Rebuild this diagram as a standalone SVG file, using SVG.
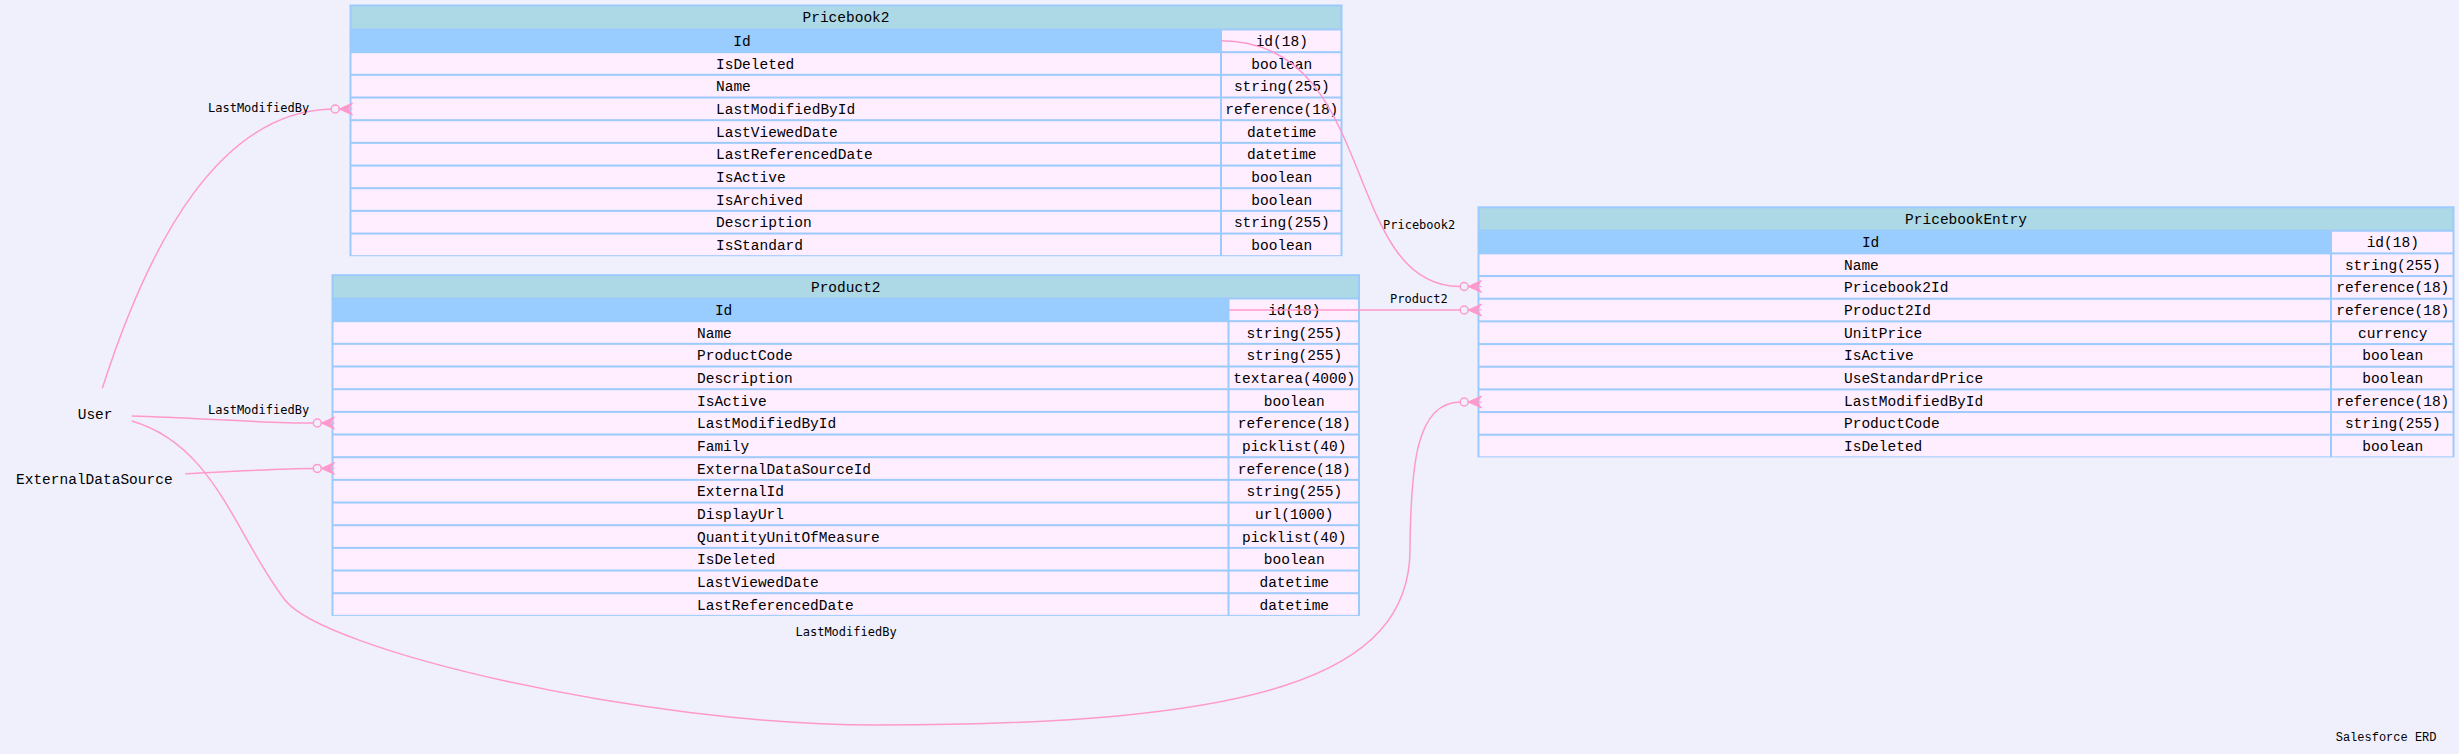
<svg xmlns="http://www.w3.org/2000/svg" xmlns:xlink="http://www.w3.org/1999/xlink" width="2459" height="754" viewBox="0 0 2459 754">
<style>
.bd{fill:#9ccafc}
.hd{fill:#add8e6}
.pk{fill:#99ccff}
.rw{fill:#ffeeff}
.t{font-family:"Liberation Mono","Courier New",monospace;font-size:14.5px;fill:#000}
.c{text-anchor:middle}
.el{font-family:"DejaVu Sans Mono",monospace;font-size:12px;fill:#000}
.cap{font-family:"Liberation Mono","Courier New",monospace;font-size:12px;fill:#000}
.e{fill:none;stroke:#ff99cc;stroke-width:1.5}
</style>
<defs>
<g id="crow">
<circle cx="-17.3" cy="0" r="4" fill="none" stroke="#ff99cc" stroke-width="1.5"/>
<path d="M-13.3,0 L0,-6 L-4.5,0 L0,6 Z M-13.3,0 H0" fill="#ff99cc" stroke="#ff99cc" stroke-width="1"/>
</g>
</defs>
<rect x="0" y="0" width="2459" height="754" fill="#f0f0fc"/>

<g id="Pricebook2">
<rect class="bd" x="349.5" y="4.5" width="993" height="251.7"/>
<rect class="hd" x="351.5" y="6.5" width="989" height="22"/>
<rect class="pk" x="351.5" y="29.5" width="868.5" height="22.67"/>
<rect class="rw" x="1222" y="30.5" width="118.5" height="20.67"/>
<rect class="rw" x="351.5" y="53.17" width="868.5" height="20.67"/><rect class="rw" x="1222" y="53.17" width="118.5" height="20.67"/>
<rect class="rw" x="351.5" y="75.84" width="868.5" height="20.67"/><rect class="rw" x="1222" y="75.84" width="118.5" height="20.67"/>
<rect class="rw" x="351.5" y="98.51" width="868.5" height="20.67"/><rect class="rw" x="1222" y="98.51" width="118.5" height="20.67"/>
<rect class="rw" x="351.5" y="121.18" width="868.5" height="20.67"/><rect class="rw" x="1222" y="121.18" width="118.5" height="20.67"/>
<rect class="rw" x="351.5" y="143.85" width="868.5" height="20.67"/><rect class="rw" x="1222" y="143.85" width="118.5" height="20.67"/>
<rect class="rw" x="351.5" y="166.52" width="868.5" height="20.67"/><rect class="rw" x="1222" y="166.52" width="118.5" height="20.67"/>
<rect class="rw" x="351.5" y="189.19" width="868.5" height="20.67"/><rect class="rw" x="1222" y="189.19" width="118.5" height="20.67"/>
<rect class="rw" x="351.5" y="211.86" width="868.5" height="20.67"/><rect class="rw" x="1222" y="211.86" width="118.5" height="20.67"/>
<rect class="rw" x="351.5" y="234.53" width="868.5" height="20.67"/><rect class="rw" x="1222" y="234.53" width="118.5" height="20.67"/>
<text class="t c" x="846" y="22">Pricebook2</text>
<text class="t c" x="742" y="45.8">Id</text>
<text class="t" x="716" y="68.5">IsDeleted</text>
<text class="t" x="716" y="91.1">Name</text>
<text class="t" x="716" y="113.8">LastModifiedById</text>
<text class="t" x="716" y="136.5">LastViewedDate</text>
<text class="t" x="716" y="159.2">LastReferencedDate</text>
<text class="t" x="716" y="181.8">IsActive</text>
<text class="t" x="716" y="204.5">IsArchived</text>
<text class="t" x="716" y="227.2">Description</text>
<text class="t" x="716" y="249.9">IsStandard</text>
<text class="t c" x="1281.75" y="45.8">id(18)</text>
<text class="t c" x="1281.75" y="68.5">boolean</text>
<text class="t c" x="1281.75" y="91.1">string(255)</text>
<text class="t c" x="1281.75" y="113.8">reference(18)</text>
<text class="t c" x="1281.75" y="136.5">datetime</text>
<text class="t c" x="1281.75" y="159.2">datetime</text>
<text class="t c" x="1281.75" y="181.8">boolean</text>
<text class="t c" x="1281.75" y="204.5">boolean</text>
<text class="t c" x="1281.75" y="227.2">string(255)</text>
<text class="t c" x="1281.75" y="249.9">boolean</text>
</g>

<g id="Product2">
<rect class="bd" x="331.5" y="274.2" width="1028.5" height="341.7"/>
<rect class="hd" x="333.5" y="276.2" width="1024.5" height="21.3"/>
<rect class="pk" x="333.5" y="298.5" width="894" height="22.67"/>
<rect class="rw" x="1229.5" y="299.5" width="128.5" height="20.67"/>
<rect class="rw" x="333.5" y="322.17" width="894" height="20.67"/><rect class="rw" x="1229.5" y="322.17" width="128.5" height="20.67"/>
<rect class="rw" x="333.5" y="344.84" width="894" height="20.67"/><rect class="rw" x="1229.5" y="344.84" width="128.5" height="20.67"/>
<rect class="rw" x="333.5" y="367.51" width="894" height="20.67"/><rect class="rw" x="1229.5" y="367.51" width="128.5" height="20.67"/>
<rect class="rw" x="333.5" y="390.18" width="894" height="20.67"/><rect class="rw" x="1229.5" y="390.18" width="128.5" height="20.67"/>
<rect class="rw" x="333.5" y="412.85" width="894" height="20.67"/><rect class="rw" x="1229.5" y="412.85" width="128.5" height="20.67"/>
<rect class="rw" x="333.5" y="435.52" width="894" height="20.67"/><rect class="rw" x="1229.5" y="435.52" width="128.5" height="20.67"/>
<rect class="rw" x="333.5" y="458.19" width="894" height="20.67"/><rect class="rw" x="1229.5" y="458.19" width="128.5" height="20.67"/>
<rect class="rw" x="333.5" y="480.86" width="894" height="20.67"/><rect class="rw" x="1229.5" y="480.86" width="128.5" height="20.67"/>
<rect class="rw" x="333.5" y="503.53" width="894" height="20.67"/><rect class="rw" x="1229.5" y="503.53" width="128.5" height="20.67"/>
<rect class="rw" x="333.5" y="526.2" width="894" height="20.67"/><rect class="rw" x="1229.5" y="526.2" width="128.5" height="20.67"/>
<rect class="rw" x="333.5" y="548.87" width="894" height="20.67"/><rect class="rw" x="1229.5" y="548.87" width="128.5" height="20.67"/>
<rect class="rw" x="333.5" y="571.54" width="894" height="20.67"/><rect class="rw" x="1229.5" y="571.54" width="128.5" height="20.67"/>
<rect class="rw" x="333.5" y="594.21" width="894" height="20.67"/><rect class="rw" x="1229.5" y="594.21" width="128.5" height="20.67"/>
<text class="t c" x="845.75" y="291.7">Product2</text>
<text class="t c" x="723.6" y="314.8">Id</text>
<text class="t" x="697" y="337.5">Name</text>
<text class="t" x="697" y="360.1">ProductCode</text>
<text class="t" x="697" y="382.8">Description</text>
<text class="t" x="697" y="405.5">IsActive</text>
<text class="t" x="697" y="428.2">LastModifiedById</text>
<text class="t" x="697" y="450.8">Family</text>
<text class="t" x="697" y="473.5">ExternalDataSourceId</text>
<text class="t" x="697" y="496.2">ExternalId</text>
<text class="t" x="697" y="518.9">DisplayUrl</text>
<text class="t" x="697" y="541.5">QuantityUnitOfMeasure</text>
<text class="t" x="697" y="564.2">IsDeleted</text>
<text class="t" x="697" y="586.9">LastViewedDate</text>
<text class="t" x="697" y="609.6">LastReferencedDate</text>
<text class="t c" x="1294.25" y="314.8">id(18)</text>
<text class="t c" x="1294.25" y="337.5">string(255)</text>
<text class="t c" x="1294.25" y="360.1">string(255)</text>
<text class="t c" x="1294.25" y="382.8">textarea(4000)</text>
<text class="t c" x="1294.25" y="405.5">boolean</text>
<text class="t c" x="1294.25" y="428.2">reference(18)</text>
<text class="t c" x="1294.25" y="450.8">picklist(40)</text>
<text class="t c" x="1294.25" y="473.5">reference(18)</text>
<text class="t c" x="1294.25" y="496.2">string(255)</text>
<text class="t c" x="1294.25" y="518.9">url(1000)</text>
<text class="t c" x="1294.25" y="541.5">picklist(40)</text>
<text class="t c" x="1294.25" y="564.2">boolean</text>
<text class="t c" x="1294.25" y="586.9">datetime</text>
<text class="t c" x="1294.25" y="609.6">datetime</text>
</g>

<g id="PricebookEntry">
<rect class="bd" x="1477.5" y="206.3" width="977" height="251.1"/>
<rect class="hd" x="1479.5" y="208.3" width="973" height="21.4"/>
<rect class="pk" x="1479.5" y="230.7" width="850.5" height="22.67"/>
<rect class="rw" x="2332" y="231.7" width="120.5" height="20.67"/>
<rect class="rw" x="1479.5" y="254.37" width="850.5" height="20.67"/><rect class="rw" x="2332" y="254.37" width="120.5" height="20.67"/>
<rect class="rw" x="1479.5" y="277.04" width="850.5" height="20.67"/><rect class="rw" x="2332" y="277.04" width="120.5" height="20.67"/>
<rect class="rw" x="1479.5" y="299.71" width="850.5" height="20.67"/><rect class="rw" x="2332" y="299.71" width="120.5" height="20.67"/>
<rect class="rw" x="1479.5" y="322.38" width="850.5" height="20.67"/><rect class="rw" x="2332" y="322.38" width="120.5" height="20.67"/>
<rect class="rw" x="1479.5" y="345.05" width="850.5" height="20.67"/><rect class="rw" x="2332" y="345.05" width="120.5" height="20.67"/>
<rect class="rw" x="1479.5" y="367.72" width="850.5" height="20.67"/><rect class="rw" x="2332" y="367.72" width="120.5" height="20.67"/>
<rect class="rw" x="1479.5" y="390.39" width="850.5" height="20.67"/><rect class="rw" x="2332" y="390.39" width="120.5" height="20.67"/>
<rect class="rw" x="1479.5" y="413.06" width="850.5" height="20.67"/><rect class="rw" x="2332" y="413.06" width="120.5" height="20.67"/>
<rect class="rw" x="1479.5" y="435.73" width="850.5" height="20.67"/><rect class="rw" x="2332" y="435.73" width="120.5" height="20.67"/>
<text class="t c" x="1966" y="223.8">PricebookEntry</text>
<text class="t c" x="1870.6" y="247">Id</text>
<text class="t" x="1844" y="269.7">Name</text>
<text class="t" x="1844" y="292.3">Pricebook2Id</text>
<text class="t" x="1844" y="315">Product2Id</text>
<text class="t" x="1844" y="337.7">UnitPrice</text>
<text class="t" x="1844" y="360.4">IsActive</text>
<text class="t" x="1844" y="383">UseStandardPrice</text>
<text class="t" x="1844" y="405.7">LastModifiedById</text>
<text class="t" x="1844" y="428.4">ProductCode</text>
<text class="t" x="1844" y="451.1">IsDeleted</text>
<text class="t c" x="2392.75" y="247">id(18)</text>
<text class="t c" x="2392.75" y="269.7">string(255)</text>
<text class="t c" x="2392.75" y="292.3">reference(18)</text>
<text class="t c" x="2392.75" y="315">reference(18)</text>
<text class="t c" x="2392.75" y="337.7">currency</text>
<text class="t c" x="2392.75" y="360.4">boolean</text>
<text class="t c" x="2392.75" y="383">boolean</text>
<text class="t c" x="2392.75" y="405.7">reference(18)</text>
<text class="t c" x="2392.75" y="428.4">string(255)</text>
<text class="t c" x="2392.75" y="451.1">boolean</text>
</g>

<g id="User">
<text class="t" x="77.7" y="419">User</text>
</g>
<g id="ExternalDataSource">
<text class="t" x="16" y="484">ExternalDataSource</text>
</g>

<g id="connectors">
<path class="e" d="M102.3,388.3 C150,240 220,112 331.2,109"/>
<use xlink:href="#crow" href="#crow" x="352.5" y="109"/>
<text class="el" x="208" y="112">LastModifiedBy</text>

<path class="e" d="M131.7,416 C200,418 260,423 313.3,423"/>
<use xlink:href="#crow" href="#crow" x="334.6" y="423"/>
<text class="el" x="208" y="414.3">LastModifiedBy</text>

<path class="e" d="M185.3,473.7 C240,471 280,468.4 313.3,468.4"/>
<use xlink:href="#crow" href="#crow" x="334.6" y="468.4"/>

<path class="e" d="M131.7,421 C215,445 235,535 285,600 C323.5,650 640,725 876,725 C1250,725 1412,680 1410,546.7 C1411,470 1415,402 1460.2,402"/>
<use xlink:href="#crow" href="#crow" x="1481.5" y="402"/>
<text class="el" x="795.5" y="636">LastModifiedBy</text>

<path class="e" d="M1221,40.8 C1380,40.8 1340,286.5 1460.2,286.5"/>
<use xlink:href="#crow" href="#crow" x="1481.5" y="286.5"/>
<text class="el" x="1383" y="229">Pricebook2</text>

<path class="e" d="M1229,310 L1460.2,310"/>
<use xlink:href="#crow" href="#crow" x="1481.5" y="310"/>
<text class="el" x="1390" y="303">Product2</text>
</g>

<text class="cap" x="2335.7" y="741">Salesforce ERD</text>
</svg>
